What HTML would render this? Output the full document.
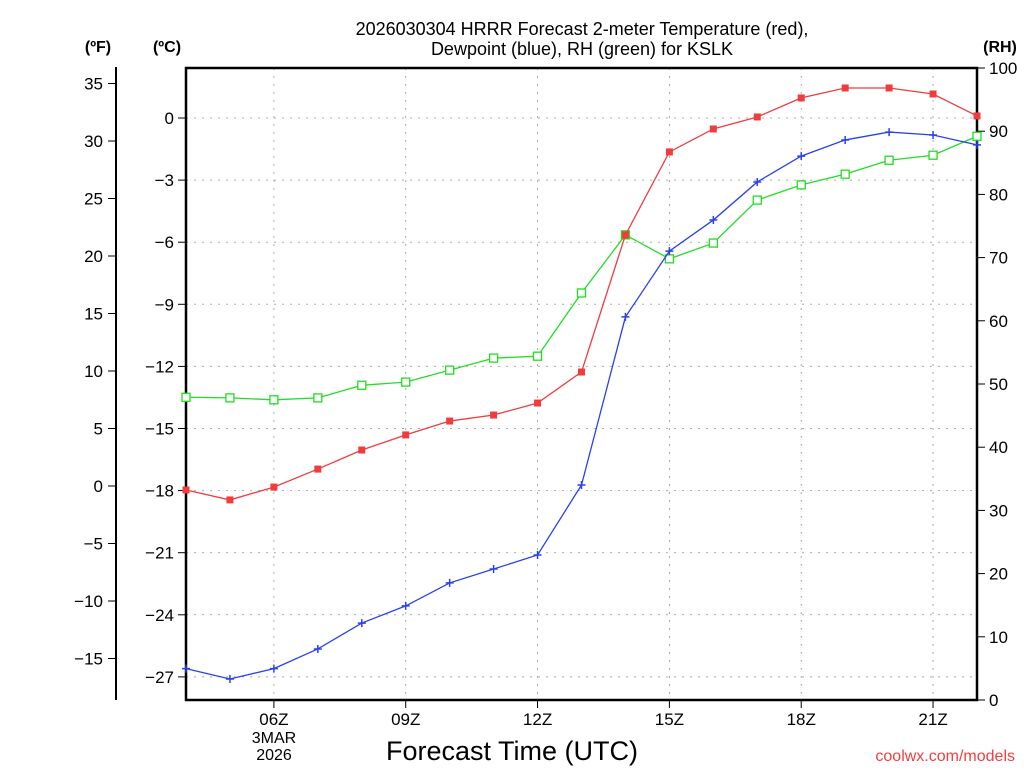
<!DOCTYPE html>
<html><head><meta charset="utf-8"><style>
body{margin:0;background:#fff;width:1024px;height:768px;overflow:hidden}
svg text{font-family:"Liberation Sans",sans-serif}
</style></head><body>
<svg id="c" width="1024" height="768">
<text x="582" y="35" text-anchor="middle" font-size="18">2026030304 HRRR Forecast 2-meter Temperature (red),</text>
<text x="582" y="55" text-anchor="middle" font-size="18">Dewpoint (blue), RH (green) for KSLK</text>
<text x="98" y="52" text-anchor="middle" font-size="16" font-weight="bold">(ºF)</text>
<text x="167" y="52" text-anchor="middle" font-size="16" font-weight="bold">(ºC)</text>
<text x="1000" y="52" text-anchor="middle" font-size="16" font-weight="bold">(RH)</text>
<text x="512" y="760" text-anchor="middle" font-size="27">Forecast Time (UTC)</text>
<text x="1015" y="761" text-anchor="end" font-size="16" fill="#f04040">coolwx.com/models</text>
<text x="274" y="743" text-anchor="middle" font-size="16">3MAR</text>
<text x="274" y="760" text-anchor="middle" font-size="16">2026</text>
<g id="grid"></g><g id="axes"></g><g id="series"></g>
</svg>
<script>
const hours=[4,5,6,7,8,9,10,11,12,13,14,15,16,17,18,19,20,21,22];
const tempC=[-17.97,-18.45,-17.83,-16.96,-16.04,-15.31,-14.64,-14.35,-13.77,-12.27,-5.65,-1.64,-0.53,0.05,0.97,1.45,1.45,1.16,0.1];
const dewC=[-26.6,-27.1,-26.6,-25.65,-24.4,-23.57,-22.46,-21.79,-21.11,-17.73,-9.61,-6.43,-4.93,-3.09,-1.84,-1.06,-0.68,-0.82,-1.3];
const rh=[47.9,47.8,47.5,47.8,49.8,50.3,52.2,54.1,54.4,64.4,73.6,69.8,72.3,79.1,81.5,83.2,85.4,86.2,89.2];
const cTicks=[0,-3,-6,-9,-12,-15,-18,-21,-24,-27];
const fTicks=[35,30,25,20,15,10,5,0,-5,-10,-15];
const rhTicks=[0,10,20,30,40,50,60,70,80,90,100];
const xTicks=[6,9,12,15,18,21];
const xLabels=["06Z","09Z","12Z","15Z","18Z","21Z"];
const L=186,R=977,T=68,B=700;
const xs=h=>L+(h-4)*(R-L)/18;
const yc=c=>118-c*20.7;
const yf=f=>yc((f-32)/1.8);
const yr=r=>B-r*(B-T)/100;
const NS="http://www.w3.org/2000/svg";
function mk(p,t,a){const e=document.createElementNS(NS,t);for(const k in a)e.setAttribute(k,a[k]);document.getElementById(p).appendChild(e);return e;}
const mn=v=>String(v).replace('-','\u2212');
cTicks.forEach(c=>{const l=mk('grid','line',{x1:L,x2:R,y1:yc(c),y2:yc(c),stroke:'#aaa','stroke-dasharray':'2,6'});


mk('axes','line',{x1:L-8,x2:L,y1:yc(c),y2:yc(c),stroke:'#000'});
const t=mk('axes','text',{x:L-12,y:yc(c)+6,'text-anchor':'end','font-size':17});t.textContent=mn(c);

});
xTicks.forEach((h,i)=>{const l=mk('grid','line',{x1:xs(h),x2:xs(h),y1:T,y2:B,stroke:'#aaa','stroke-dasharray':'2,6'});


mk('axes','line',{x1:xs(h),x2:xs(h),y1:B,y2:B+8,stroke:'#000'});
const t=mk('axes','text',{x:xs(h),y:B+25,'text-anchor':'middle','font-size':17});t.textContent=xLabels[i];

});
fTicks.forEach(f=>{mk('axes','line',{x1:108,x2:116,y1:yf(f),y2:yf(f),stroke:'#000'});
const t=mk('axes','text',{x:103,y:yf(f)+6,'text-anchor':'end','font-size':17});t.textContent=mn(f);

});
rhTicks.forEach(r=>{mk('axes','line',{x1:R,x2:R+8,y1:yr(r),y2:yr(r),stroke:'#000'});
const t=mk('axes','text',{x:R+12,y:yr(r)+6,'font-size':17});t.textContent=r;

});
const fa=mk('axes','line',{x1:116,x2:116,y1:67,y2:700,stroke:'#000','stroke-width':2});


const fr=mk('axes','rect',{x:L,y:T,width:R-L,height:B-T,fill:'none',stroke:'#000','stroke-width':2.5});


function series(vals,yfn,col,marker,name){
const pts=vals.map((v,i)=>[xs(hours[i]),yfn(v)]);
const pl=mk('series','polyline',{points:pts.map(p=>p.join(',')).join(' '),fill:'none',stroke:col,'stroke-width':1.3});


pts.forEach(p=>{let m;
if(marker==='fill')m=mk('series','rect',{x:p[0]-3.5,y:p[1]-3.5,width:7,height:7,fill:col});
else if(marker==='open')m=mk('series','rect',{x:p[0]-4,y:p[1]-4,width:8,height:8,fill:'#fff',stroke:col,'stroke-width':1.3});
else m=mk('series','path',{d:`M${p[0]-4},${p[1]}h8M${p[0]},${p[1]-4}v8`,stroke:col,'stroke-width':1.5});

});}
series(rh,yr,'#22dd22','open','rh');
series(tempC,yc,'#f03c3c','fill','temperature');
series(dewC,yc,'#2a40f0','plus','dewpoint');
</script>
</body></html>
